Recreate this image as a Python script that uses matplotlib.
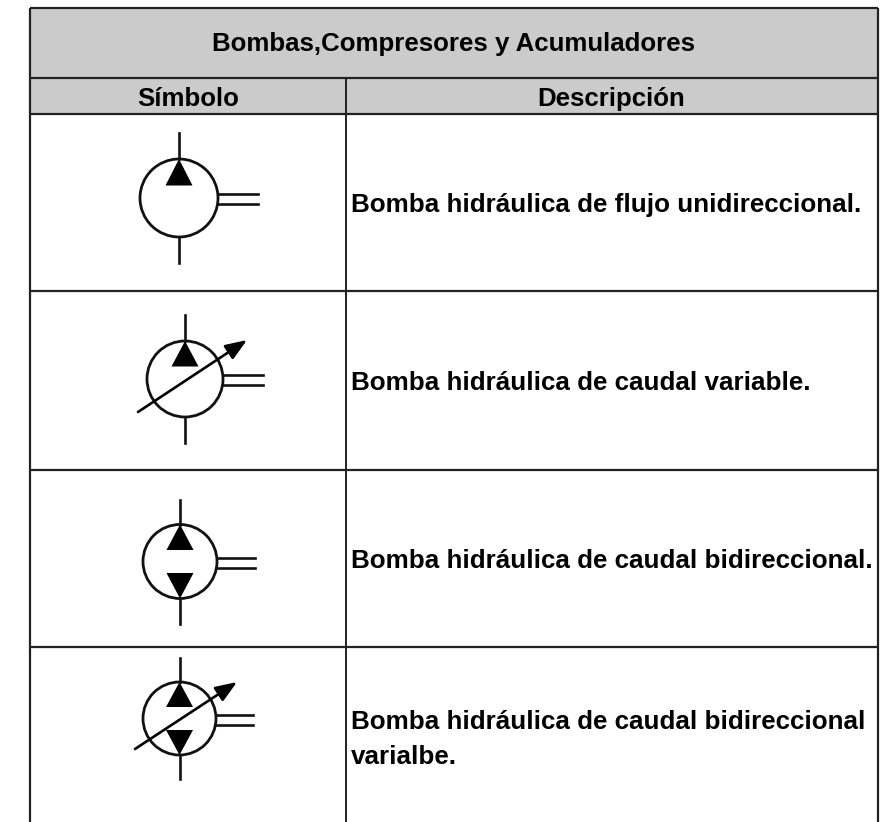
import matplotlib
matplotlib.use("Agg")
import matplotlib.pyplot as plt
from matplotlib.patches import Circle, Polygon, Rectangle

title = "Bombas,Compresores y Acumuladores"
headers = ["Símbolo", "Descripción"]
descriptions = [
    "Bomba hidráulica de flujo unidireccional.",
    "Bomba hidráulica de caudal variable.",
    "Bomba hidráulica de caudal bidireccional.",
    "Bomba hidráulica de caudal bidireccional\nvarialbe.",
]
# which symbol parts each row has
has_lower_triangle = [False, False, True, True]
has_arrow = [False, True, False, True]

plt.rcParams["font.family"] = ["Liberation Sans", "DejaVu Sans"]
fig = plt.figure(figsize=(8.9, 8.22), dpi=100)
ax = fig.add_axes([0, 0, 1, 1])
ax.set_xlim(0, 890)
ax.set_ylim(822, 0)
ax.axis("off")

left, mid, right = 29.5, 345.5, 878
grey = "#cbcbcb"
line = "#222222"

# header bands
ax.add_patch(Rectangle((left, 8), right - left, 106, fc=grey, ec="none"))
for y in [8, 78.5, 114, 291.5, 469.5, 646.5]:
    ax.plot([left, right], [y, y], color=line, lw=1.6, solid_capstyle="butt")
for x in [left, right]:
    ax.plot([x, x], [8, 822], color=line, lw=1.6, solid_capstyle="butt")
ax.plot([mid, mid], [78.5, 822], color=line, lw=1.4, solid_capstyle="butt")

ax.text(453, 51, title, ha="center", va="baseline", fontsize=18.6, fontweight="bold", color="black")
ax.text(188.5, 106, headers[0], ha="center", va="baseline", fontsize=18.6, fontweight="bold", color="black")
ax.text(611, 106, headers[1], ha="center", va="baseline", fontsize=18.6, fontweight="bold", color="black")

text_y = [212, 390, 568, 764]
centers = [(179, 198), (185, 379), (180, 561.5), (179.5, 718.5)]
radii = [39, 38, 37, 36.5]
stubs = [26, 26, 25, 24]
shaft_y = [199, 380, 562.5, 720]
shaft_len = [40, 40, 38, 37]
arrows = [None, ((138, 412), (247, 340)), None, ((135, 749), (237, 682))]

for i, desc in enumerate(descriptions):
    ax.text(351, text_y[i], desc, ha="left", va="baseline", fontsize=18.7, fontweight="bold",
            color="black", linespacing=1.58)
    cx, cy = centers[i]
    r = radii[i]
    ax.add_patch(Circle((cx, cy), r, fc="none", ec="#111111", lw=2))
    # ports
    ax.plot([cx, cx], [cy - r - stubs[i], cy - r], color="#111111", lw=1.9)
    ax.plot([cx, cx], [cy + r, cy + r + stubs[i]], color="#111111", lw=1.9)
    # shaft
    for dy in [-5, 5]:
        ax.plot([cx + r, cx + r + shaft_len[i]], [shaft_y[i] + dy, shaft_y[i] + dy], color="#111111", lw=1.9)
    # triangles
    base = 11.5 if has_lower_triangle[i] else 12.5
    ax.add_patch(Polygon([(cx, cy - r), (cx - 13.5, cy - base), (cx + 13.5, cy - base)], fc="black", ec="none"))
    if has_lower_triangle[i]:
        ax.add_patch(Polygon([(cx, cy + r), (cx - 13.5, cy + base), (cx + 13.5, cy + base)], fc="black", ec="none"))
    if has_arrow[i]:
        ax.annotate("", xy=arrows[i][1], xytext=arrows[i][0],
                    arrowprops=dict(arrowstyle="-|>,head_length=1.3,head_width=0.5", color="black",
                                    lw=1.9, shrinkA=0, shrinkB=0))

fig.savefig("out.png", dpi=100)
